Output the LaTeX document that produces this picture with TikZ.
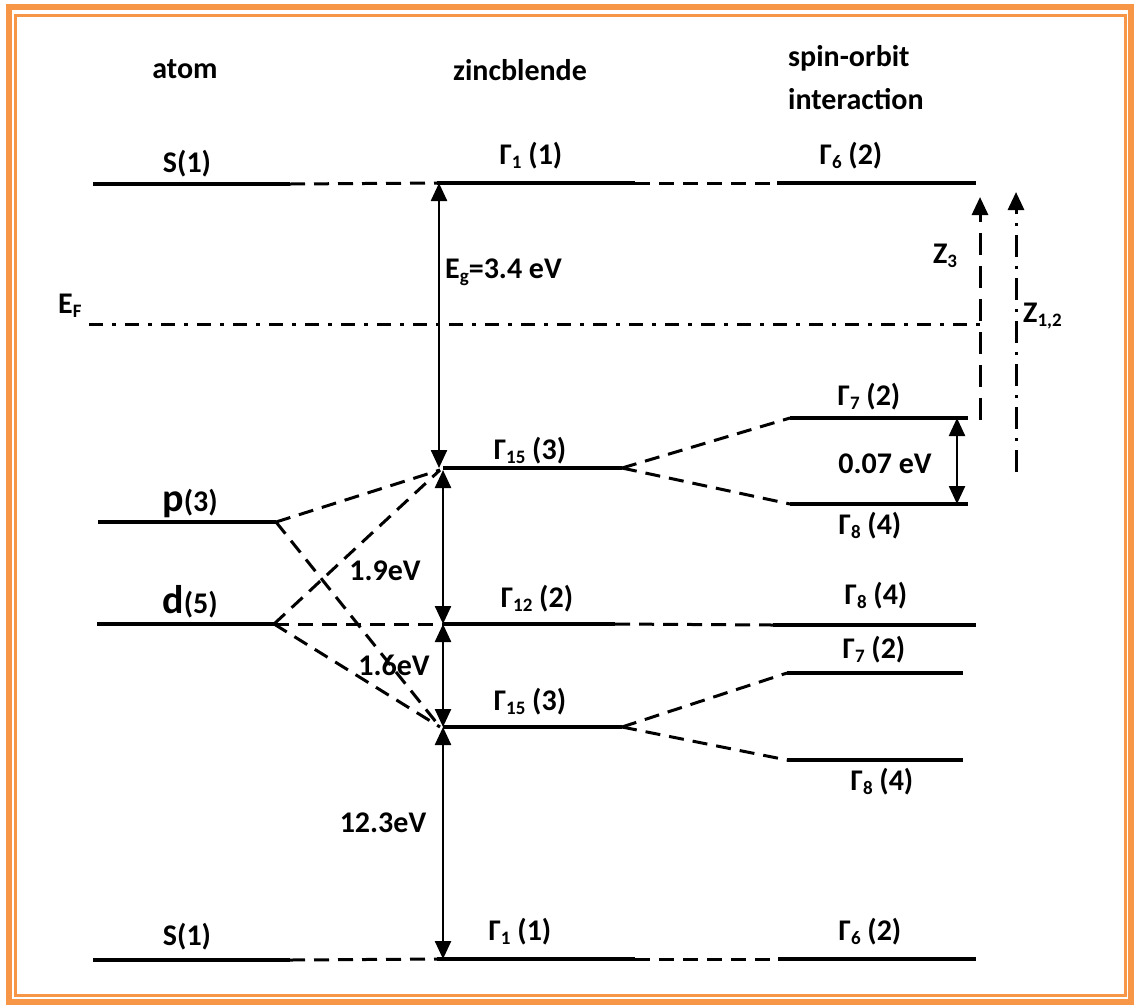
\documentclass[tikz,border=0pt]{standalone}
\usepackage{fontspec}
\setmainfont{Carlito}
\usetikzlibrary{arrows.meta}
\definecolor{frameorange}{HTML}{F79646}
\newcommand{\lo}[1]{\raisebox{-0.3ex}{\fontsize{19}{20}\selectfont #1}}
\newcommand{\orbl}[1]{{\fontsize{40}{44}\selectfont #1}}
\begin{document}
\begin{tikzpicture}[x=1pt,y=-1pt,
  level/.style={line width=3.4pt},
  conn/.style={line width=3pt, dash pattern=on 15pt off 9pt},
  gaparrow/.style={line width=2.4pt, {Triangle[width=16pt,length=18pt]}-{Triangle[width=16pt,length=18pt]}},
  zdash/.style={line width=3pt, dash pattern=on 22pt off 11pt, -{Triangle[width=16pt,length=18pt]}},
  zdashdot/.style={line width=3pt, dash pattern=on 22pt off 9pt on 3pt off 9pt, -{Triangle[width=16pt,length=18pt]}},
  fermi/.style={line width=3pt, dash pattern=on 14pt off 9pt on 4pt off 9pt},
  lbl/.style={font=\fontsize{30}{36}\selectfont\bfseries, inner sep=0pt, anchor=base},
  lblw/.style={lbl, anchor=base west},
]
\useasboundingbox (0,0) rectangle (1134,1005);
\fill[white] (0,0) rectangle (1134,1005);
% frame
\draw[frameorange, line width=6pt] (8.5,7) rectangle (1130.5,1002);
\draw[frameorange, line width=3pt] (15.5,15) rectangle (1125,995.5);

% level end points
\coordinate (sT-l) at (93,184);   \coordinate (sT-r) at (290,184);
\coordinate (g1T-l) at (437,183); \coordinate (g1T-r) at (635,183);
\coordinate (g6T-l) at (777,183); \coordinate (g6T-r) at (976,183);
\coordinate (EF-l) at (89,324);   \coordinate (EF-r) at (980,324);
\coordinate (g7U-l) at (790,418); \coordinate (g7U-r) at (968,418);
\coordinate (g15U-l) at (443,468); \coordinate (g15U-r) at (622,468);
\coordinate (g8U-l) at (790,504); \coordinate (g8U-r) at (968,504);
\coordinate (p-l) at (98,522);    \coordinate (p-r) at (276,522);
\coordinate (d-l) at (97,624);    \coordinate (d-r) at (274,624);
\coordinate (g12-l) at (443,624); \coordinate (g12-r) at (615,624);
\coordinate (g8M-l) at (773,625); \coordinate (g8M-r) at (976,625);
\coordinate (g7L-l) at (787,673); \coordinate (g7L-r) at (963,673);
\coordinate (g15L-l) at (443,727); \coordinate (g15L-r) at (622,727);
\coordinate (g8L-l) at (787,760); \coordinate (g8L-r) at (963,760);
\coordinate (sB-l) at (93,960);   \coordinate (sB-r) at (290,960);
\coordinate (g1B-l) at (437,959); \coordinate (g1B-r) at (635,959);
\coordinate (g6B-l) at (778,959); \coordinate (g6B-r) at (976,959);
\coordinate (cU) at (440,470);    \coordinate (cL) at (440,727);

% levels
\foreach \n in {sT,g1T,g6T,g7U,g15U,g8U,p,d,g12,g8M,g7L,g15L,g8L,sB,g1B,g6B}
  \draw[level] (\n-l) -- (\n-r);
\draw[fermi] (EF-l) -- (EF-r);

% dashed connectors
\draw[conn] (sT-r) -- (g1T-l);
\draw[conn] (g1T-r) -- (g6T-l);
\draw[conn] (g15U-r) -- (g7U-l);
\draw[conn] (g15U-r) -- (g8U-l);
\draw[conn] (p-r) -- (cU);
\draw[conn] (p-r) -- (cL);
\draw[conn] (d-r) -- (cU);
\draw[conn] (d-r) -- (cL);
\draw[conn] (d-r) -- (g12-l);
\draw[conn] (g12-r) -- (g8M-l);
\draw[conn] (g15L-r) -- (g7L-l);
\draw[conn] (g15L-r) -- (g8L-l);
\draw[conn] (sB-r) -- (g1B-l);
\draw[conn] (g1B-r) -- (g6B-l);

% energy arrows
\coordinate (eg-t) at (439,183);  \coordinate (eg-b) at (439,468);
\coordinate (a19-t) at (443,470); \coordinate (a19-b) at (443,624);
\coordinate (a16-t) at (443,624); \coordinate (a16-b) at (443,727);
\coordinate (a12-t) at (443,727); \coordinate (a12-b) at (443,959);
\coordinate (so-t) at (957,418);  \coordinate (so-b) at (957,504);
\coordinate (z3-b) at (980,420);  \coordinate (z3-t) at (980,197);
\coordinate (z12-b) at (1016,472); \coordinate (z12-t) at (1016,192);
\draw[gaparrow] (eg-t) -- (eg-b);
\draw[gaparrow] (a19-t) -- (a19-b);
\draw[gaparrow] (a16-t) -- (a16-b);
\draw[gaparrow] (a12-t) -- (a12-b);
\draw[gaparrow] (so-t) -- (so-b);
\draw[zdash] (z3-b) -- (z3-t);
\draw[zdashdot] (z12-b) -- (z12-t);

% headers
\node[lbl] (hAtom) at (185,78) {atom};
\node[lbl] (hZb) at (520,80) {zincblende};
\node[lblw] (hSo1) at (788,66) {spin-orbit};
\node[lblw] (hSo2) at (788,109) {interaction};

% labels
\node[lbl] (tS) at (187,172) {S(1)};
\node[lbl] (tG1) at (531,164) {Γ\lo{1} (1)};
\node[lbl] (tG6) at (851,164) {Γ\lo{6} (2)};
\node[lblw] (tEF) at (58,313) {E\lo{F}};
\node[lblw] (tEg) at (445,278) {E\lo{g}=3.4 eV};
\node[lbl] (tZ3) at (945,263) {Z\lo{3}};
\node[lblw] (tZ12) at (1023,322) {Z\lo{1,2}};
\node[lbl] (tG7U) at (869,405) {Γ\lo{7} (2)};
\node[lbl] (tG15U) at (530,459) {Γ\lo{15} (3)};
\node[lbl] (tSO) at (885,473) {0.07 eV};
\node[lbl] (tP) at (190,511) {\orbl{p}(3)};
\node[lbl] (tG8U) at (870,534) {Γ\lo{8} (4)};
\node[lbl] (t19) at (385,580) {1.9eV};
\node[lbl] (tD) at (190,613) {\orbl{d}(5)};
\node[lbl] (tG12) at (537,607) {Γ\lo{12} (2)};
\node[lbl] (tG8M) at (876,604) {Γ\lo{8} (4)};
\node[lbl] (tG7L) at (874,658) {Γ\lo{7} (2)};
\node[lbl] (t16) at (394,675) {1.6eV};
\node[lbl] (tG15L) at (530,710) {Γ\lo{15} (3)};
\node[lbl] (tG8L) at (882,790) {Γ\lo{8} (4)};
\node[lbl] (t123) at (383,832) {12.3eV};
\node[lbl] (tSB) at (187,945) {S(1)};
\node[lbl] (tG1B) at (520,940) {Γ\lo{1} (1)};
\node[lbl] (tG6B) at (870,940) {Γ\lo{6} (2)};
\end{tikzpicture}
\end{document}
